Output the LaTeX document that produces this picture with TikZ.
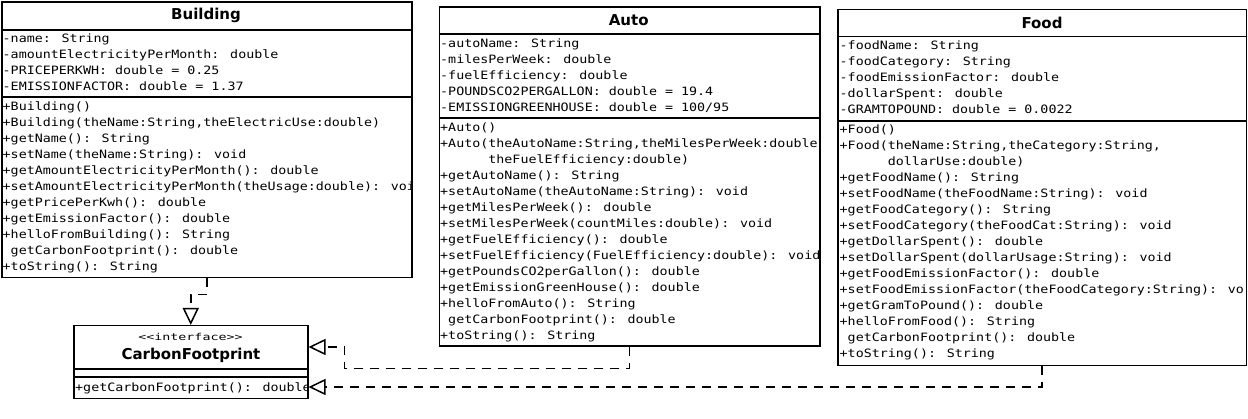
\documentclass[tikz,border=0pt]{standalone}
\usepackage{fontspec}
\newfontfamily\umlmono[FakeStretch=1.16]{DejaVu Sans Mono}
\newfontfamily\umlstereo[FakeStretch=1.4]{DejaVu Sans Mono}
\newfontfamily\umlsans{DejaVu Sans}
\usetikzlibrary{arrows.meta,calc}
\tikzset{
  classbox/.style={draw=black, line width=1.5pt, fill=white, inner sep=0pt, anchor=north west},
  sepline/.style={draw=black, line width=1.5pt},
  mono/.style={inner sep=0pt, anchor=base west, font=\umlmono\fontsize{11.5}{16}\selectfont},
  ctitle/.style={inner sep=0pt, font=\umlsans\bfseries\fontsize{15}{18}\selectfont},
  stereo/.style={inner sep=0pt, font=\umlstereo\fontsize{9.5}{12}\selectfont},
  realize/.style={draw=black, line width=1.5pt, dash pattern=on 9pt off 7pt,
    -{Triangle[open, length=17pt, width=16pt, fill=white]}},
}
\newcommand\classlines[4]{%
  \foreach \t [count=\i from 0] in {#4} {\node[mono] (#3\i) at (#1, #2+16*\i) {\t};}}
\begin{document}
\begin{tikzpicture}[x=1pt,y=-1pt]
\useasboundingbox (0,0) rectangle (1248,419);
\fill[white] (0,0) rectangle (1248,419);

% ---------------- Building
\node[classbox, minimum width=410pt, minimum height=275.5pt] (building) at (1,1.5) {};
\draw[sepline] (1,30) -- (411,30);
\draw[sepline] (1,97) -- (411,97);
\node[ctitle] (buildingT) at (206,15.5) {Building};
\begin{scope}
\clip (2,2) rectangle (410.2,276);
\classlines{2.5}{43}{ba}{-name: String,-amountElectricityPerMonth: double,-PRICEPERKWH: double = 0.25,-EMISSIONFACTOR: double = 1.37}
\classlines{2.5}{111}{bm}{+Building(),{+Building(theName:String,theElectricUse:double)},+getName(): String,+setName(theName:String): void,+getAmountElectricityPerMonth(): double,+setAmountElectricityPerMonth(theUsage:double): void,+getPricePerKwh(): double,+getEmissionFactor(): double,+helloFromBuilding(): String,~getCarbonFootprint(): double,+toString(): String}
\end{scope}

% ---------------- Auto
\node[classbox, minimum width=380.5pt, minimum height=339pt] (auto) at (438.5,6.5) {};
\draw[sepline] (438.5,34) -- (819,34);
\draw[sepline] (438.5,118) -- (819,118);
\node[ctitle] (autoT) at (628.7,20.5) {Auto};
\begin{scope}
\clip (439.3,7) rectangle (818.6,345);
\classlines{440}{47.5}{aa}{-autoName: String,-milesPerWeek: double,-fuelEfficiency: double,-POUNDSCO2PERGALLON: double = 19.4,-EMISSIONGREENHOUSE: double = 100/95}
\classlines{440}{131.5}{am}{+Auto(),{+Auto(theAutoName:String,theMilesPerWeek:double,},~~~~~~theFuelEfficiency:double),+getAutoName(): String,+setAutoName(theAutoName:String): void,+getMilesPerWeek(): double,+setMilesPerWeek(countMiles:double): void,+getFuelEfficiency(): double,+setFuelEfficiency(FuelEfficiency:double): void,+getPoundsCO2perGallon(): double,+getEmissionGreenHouse(): double,+helloFromAuto(): String,~getCarbonFootprint(): double,+toString(): String}
\end{scope}

% ---------------- Food
\node[classbox, minimum width=408.5pt, minimum height=356pt] (food) at (837,9) {};
\draw[sepline] (837,36.7) -- (1245.5,36.7);
\draw[sepline] (837,121) -- (1245.5,121);
\node[ctitle] (foodT) at (1042,22.8) {Food};
\begin{scope}
\clip (838,10) rectangle (1244.8,364);
\classlines{839.5}{50}{fa}{-foodName: String,-foodCategory: String,-foodEmissionFactor: double,-dollarSpent: double,-GRAMTOPOUND: double = 0.0022}
\classlines{839.5}{134}{fm}{+Food(),{+Food(theName:String,theCategory:String,},~~~~~~dollarUse:double),+getFoodName(): String,+setFoodName(theFoodName:String): void,+getFoodCategory(): String,+setFoodCategory(theFoodCat:String): void,+getDollarSpent(): double,+setDollarSpent(dollarUsage:String): void,+getFoodEmissionFactor(): double,+setFoodEmissionFactor(theFoodCategory:String): void,+getGramToPound(): double,+helloFromFood(): String,~getCarbonFootprint(): double,+toString(): String}
\end{scope}

% ---------------- CarbonFootprint
\node[classbox, minimum width=234pt, minimum height=73pt] (cf) at (73,325) {};
\draw[sepline] (73,369) -- (307,369);
\draw[sepline] (73,377) -- (307,377);
\node[stereo] (cfS) at (190.5,337) {<\kern0pt<interface>\kern0pt>};
\node[ctitle] (cfT) at (191,355.5) {CarbonFootprint};
\begin{scope}
\clip (74,378) rectangle (306.3,397);
\node[mono] (cfm0) at (75,392) {+getCarbonFootprint(): double};
\end{scope}

% ---------------- realizations
\coordinate (cfA) at ($(cf.north east)+(0,22)$);
\coordinate (cfF) at ($(cf.north east)+(0,62)$);
\coordinate (bendA) at ($(cfA)+(36,0)$);
\draw[realize] (building.south) -- ++(0,16) -| (cf.north);
\draw[realize] (auto.south) -- ++(0,21.5) -| (bendA) -- (cfA);
\draw[realize] (food.south) |- (cfF);
\end{tikzpicture}
\end{document}
